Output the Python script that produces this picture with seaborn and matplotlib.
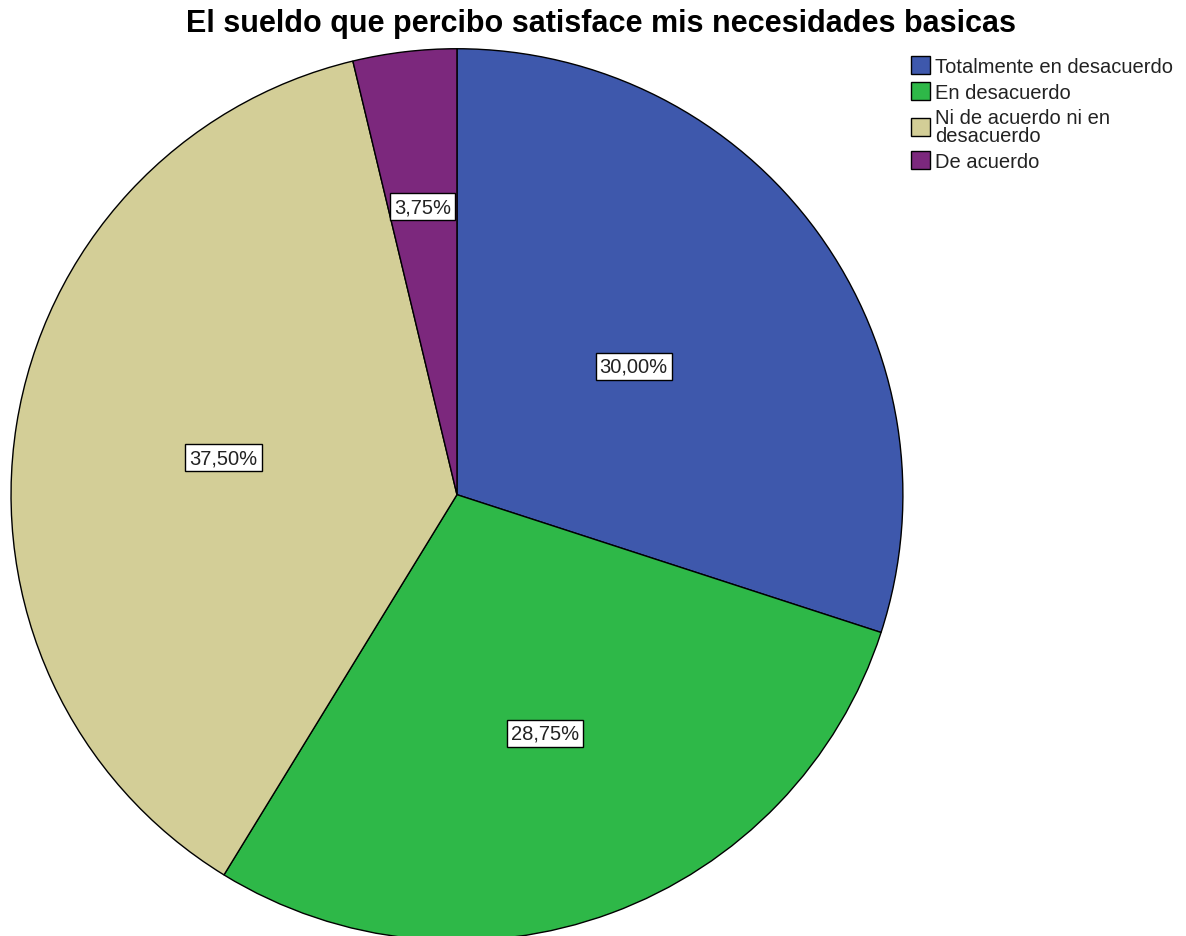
import matplotlib
matplotlib.use("Agg")
import matplotlib.pyplot as plt
import seaborn as sns

categories = ["Totalmente en desacuerdo", "En desacuerdo",
              "Ni de acuerdo ni en\ndesacuerdo", "De acuerdo"]
percentages = [30.00, 28.75, 37.50, 3.75]
colors = ["#3E58AC", "#2EB848", "#D3CE97", "#7C287D"]
# how far out each label sits, as a fraction of the radius
label_dist = [0.49, 0.57, 0.53, 0.65]

sns.set_theme(style="white")
plt.rcParams["font.family"] = ["Liberation Sans", "DejaVu Sans"]

fig = plt.figure(figsize=(11.86, 9.37), dpi=100)
ax = fig.add_axes([0.0093, -0.005, 0.752, 0.952])

wedges, texts, autotexts = ax.pie(
    percentages,
    colors=colors,
    startangle=90,
    counterclock=False,
    radius=1,
    autopct=lambda p: f"{p:.2f}%".replace(".", ","),
    pctdistance=1.0,
    wedgeprops=dict(edgecolor="black", linewidth=1.0),
    textprops=dict(fontsize=14.5, color="#222222"),
)
for t, d in zip(autotexts, label_dist):
    x, y = t.get_position()
    t.set_position((x * d, y * d))
    t.set_bbox(dict(boxstyle="square,pad=0.2", facecolor="white",
                    edgecolor="black", linewidth=1.0))

ax.set_xlim(-1, 1)
ax.set_ylim(-1, 1)
ax.set_aspect("equal")
ax.axis("off")

fig.suptitle("El sueldo que percibo satisface mis necesidades basicas",
             fontsize=22, fontweight="bold", color="black",
             x=0.507, y=0.99, va="top")

leg = fig.legend(wedges, categories, loc="upper left",
                 bbox_to_anchor=(0.761, 0.948), frameon=False,
                 fontsize=14.5, labelcolor="#222222",
                 handlelength=0.95, handleheight=1.0,
                 handletextpad=0.25, labelspacing=0.32, borderaxespad=0)
for txt in leg.get_texts():
    txt.set_linespacing(0.9)

fig.savefig("out.png", dpi=100)
